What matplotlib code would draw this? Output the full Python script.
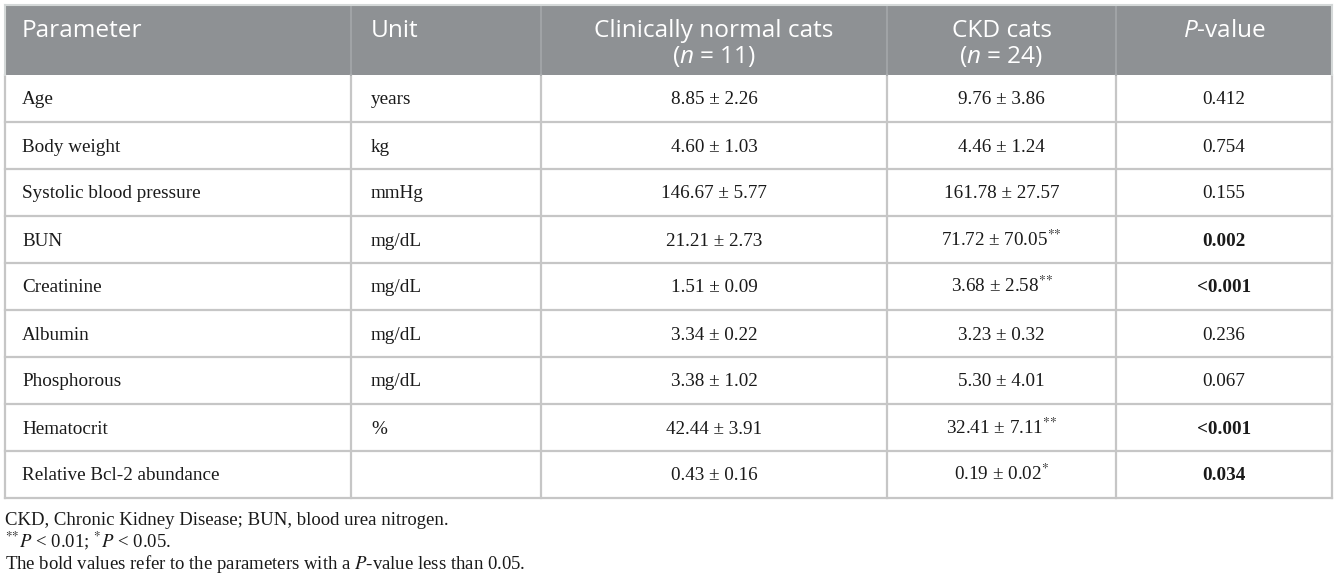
import matplotlib
matplotlib.use("Agg")
import matplotlib.pyplot as plt
from matplotlib.patches import Rectangle

# Table content
parameters = ["Age", "Body weight", "Systolic blood pressure", "BUN", "Creatinine",
              "Albumin", "Phosphorous", "Hematocrit", "Relative Bcl-2 abundance"]
units = ["years", "kg", "mmHg", "mg/dL", "mg/dL", "mg/dL", "mg/dL", "%", ""]
normal_vals = ["8.85 ± 2.26", "4.60 ± 1.03", "146.67 ± 5.77", "21.21 ± 2.73", "1.51 ± 0.09",
               "3.34 ± 0.22", "3.38 ± 1.02", "42.44 ± 3.91", "0.43 ± 0.16"]
ckd_vals = ["9.76 ± 3.86", "4.46 ± 1.24", "161.78 ± 27.57", "71.72 ± 70.05", "3.68 ± 2.58",
            "3.23 ± 0.32", "5.30 ± 4.01", "32.41 ± 7.11", "0.19 ± 0.02"]
ckd_stars = ["", "", "", "**", "**", "", "", "**", "*"]
p_values = ["0.412", "0.754", "0.155", "0.002", "<0.001", "0.236", "0.067", "<0.001", "0.034"]
p_bold = [False, False, False, True, True, False, False, True, True]

footnotes = [
    "CKD, Chronic Kidney Disease; BUN, blood urea nitrogen.",
    r"$^{{*}{*}}P$ < 0.01; $^{*}P$ < 0.05.",
    r"The bold values refer to the parameters with a $P$-value less than 0.05.",
]

# Layout (pixels)
W, H = 1337, 582
col_edges = [5, 351, 541, 887, 1116, 1332]
header_top, header_bot = 5, 75
row_h = 47
header_bg = "#8e9194"
grid_c = "#c6c6c6"

plt.rcParams["mathtext.fontset"] = "custom"
plt.rcParams["mathtext.rm"] = "Open Sans"
plt.rcParams["mathtext.it"] = "Open Sans:italic"

fig = plt.figure(figsize=(W / 100, H / 100), dpi=100)
ax = fig.add_axes([0, 0, 1, 1])
ax.set_xlim(0, W)
ax.set_ylim(H, 0)
ax.axis("off")

n_rows = len(parameters)
table_bot = header_bot + n_rows * row_h

# header background
ax.add_patch(Rectangle((col_edges[0], header_top), col_edges[-1] - col_edges[0],
                       header_bot - header_top, facecolor=header_bg, edgecolor="none"))

# grid lines
for y in [header_bot + i * row_h for i in range(1, n_rows + 1)]:
    ax.plot([col_edges[0], col_edges[-1]], [y, y], color=grid_c, lw=1.6)
for x in col_edges:
    ax.plot([x, x], [header_bot, table_bot], color=grid_c, lw=1.6)
for x in col_edges[1:-1]:
    ax.plot([x, x], [header_top, header_bot], color="#a4a7aa", lw=1.2)
ax.plot([col_edges[0], col_edges[-1]], [header_top, header_top], color="#d4d8d8", lw=1.5)
ax.plot([col_edges[0], col_edges[0]], [header_top, header_bot], color="#d4d8d8", lw=1.5)
ax.plot([col_edges[-1], col_edges[-1]], [header_top, header_bot], color="#d4d8d8", lw=1.5)

# header text
hfont = dict(family="Open Sans", fontsize=17.6, color="white", math_fontfamily="custom")
line1, line2 = 37, 63
ax.text(col_edges[0] + 17, line1, "Parameter", ha="left", va="baseline", **hfont)
ax.text(col_edges[1] + 20, line1, "Unit", ha="left", va="baseline", **hfont)
c3 = (col_edges[2] + col_edges[3]) / 2
c4 = (col_edges[3] + col_edges[4]) / 2
c5 = (col_edges[4] + col_edges[5]) / 2
ax.text(c3, line1, "Clinically normal cats", ha="center", va="baseline", **hfont)
ax.text(c3, line2, "($n$ = 11)", ha="center", va="baseline", **hfont)
ax.text(c4, line1, "CKD cats", ha="center", va="baseline", **hfont)
ax.text(c4, line2, "($n$ = 24)", ha="center", va="baseline", **hfont)
ax.text(c5, line1, "$P$-value", ha="center", va="baseline", **hfont)

# body text
bfont = dict(family="Liberation Serif", fontsize=13.8, color="#1a1a1a", math_fontfamily="stix")
for i in range(n_rows):
    yc = header_bot + i * row_h + row_h / 2 + 6
    ax.text(col_edges[0] + 17, yc, parameters[i], ha="left", va="baseline", **bfont)
    ax.text(col_edges[1] + 20, yc, units[i], ha="left", va="baseline", **bfont)
    ax.text(c3, yc, normal_vals[i], ha="center", va="baseline", **bfont)
    star = "$^{" + "".join("{*}" for _ in ckd_stars[i]) + "}$" if ckd_stars[i] else ""
    ax.text(c4, yc, ckd_vals[i] + star, ha="center", va="baseline", **bfont)
    ax.text(c5, yc, p_values[i], ha="center", va="baseline",
            fontweight="bold" if p_bold[i] else "normal", **bfont)

# footnotes
ffont = dict(family="Liberation Serif", fontsize=13.5, color="#1a1a1a", math_fontfamily="stix")
for j, note in enumerate(footnotes):
    ax.text(col_edges[0], 525 + j * 22, note, ha="left", va="baseline", **ffont)

fig.savefig("out.png", dpi=100, facecolor="white")
